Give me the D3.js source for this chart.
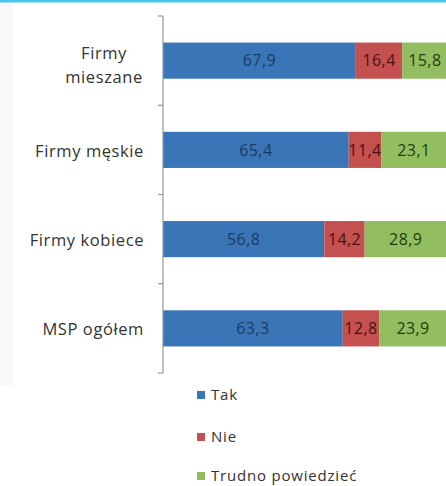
<!DOCTYPE html>
<html>
<head>
<meta charset="utf-8">
<script src="https://cdn.jsdelivr.net/npm/d3@7"></script>
<style>
  html, body { margin: 0; padding: 0; background: #ffffff; }
  svg { display: block; }
</style>
</head>
<body>
<svg id="chart" width="446" height="486"></svg>
<script>
// Categories listed top to bottom
const categories = ["Firmy mieszane", "Firmy męskie", "Firmy kobiece", "MSP ogółem"];
const categoryLines = [["Firmy", "mieszane"], ["Firmy męskie"], ["Firmy kobiece"], ["MSP ogółem"]];

// Series values (%)
const seriesNames = ["Tak", "Nie", "Trudno powiedzieć"];
const tak    = [67.9, 65.4, 56.8, 63.3];
const nie    = [16.4, 11.4, 14.2, 12.8];
const trudno = [15.8, 23.1, 28.9, 23.9];

const fills      = ["#3a76b7", "#c4504f", "#93be5f"];
const labelInks  = ["#1b3a5e", "#4a1212", "#223d12"];
const FONT = "'Open Sans', sans-serif";

const svg = d3.select("#chart");
const W = 446, H = 486;

svg.append("rect").attr("x", 0).attr("y", 0).attr("width", W).attr("height", H).attr("fill", "#ffffff");
svg.append("rect").attr("x", 0).attr("y", 0).attr("width", 13).attr("height", 386).attr("fill", "#f8f8f8");
// top rule
svg.append("rect").attr("x", 0).attr("y", 0).attr("width", W).attr("height", 2.5).attr("fill", "#4dc2ef");

const x = d3.scaleLinear().domain([0, 100]).range([163, 447]);
const y = d3.scaleBand().domain(categories).range([16, 373]).paddingInner(0.595).paddingOuter(0.2975);

const rows = categories.map((c, i) => {
  const vals = [tak[i], nie[i], trudno[i]];
  let acc = 0;
  return vals.map((v, k) => { const seg = { cat: c, k, v, x0: acc, x1: acc + v }; acc += v; return seg; });
});

const g = svg.append("g");
rows.forEach(segs => {
  g.selectAll(null).data(segs).enter().append("rect")
    .attr("x", d => x(d.x0))
    .attr("y", d => y(d.cat))
    .attr("width", d => x(d.x1) - x(d.x0))
    .attr("height", y.bandwidth())
    .attr("fill", d => fills[d.k]);
  g.selectAll(null).data(segs).enter().append("text")
    .attr("x", d => (x(d.x0) + x(d.x1)) / 2)
    .attr("y", d => y(d.cat) + y.bandwidth() / 2)
    .attr("dy", "0.36em")
    .attr("text-anchor", "middle")
    .attr("font-family", FONT)
    .attr("font-size", 16)
    .attr("letter-spacing", "0.4px")
    .attr("fill", d => labelInks[d.k])
    .text(d => d3.format(".1f")(d.v).replace(".", ","));
});

// Category axis with boundary ticks between bands
const axisX = 163;
const bounds = d3.range(categories.length + 1).map(i => 16 + i * (357 / categories.length));
svg.append("line").attr("x1", axisX).attr("x2", axisX).attr("y1", 16).attr("y2", 373)
  .attr("stroke", "#969696").attr("stroke-width", 1.2);
svg.selectAll(null).data(bounds).enter().append("line")
  .attr("x1", axisX - 5).attr("x2", axisX).attr("y1", d => d).attr("y2", d => d)
  .attr("stroke", "#969696").attr("stroke-width", 1.2);

// Category labels
categories.forEach((c, i) => {
  const lines = categoryLines[i];
  const cy = y(c) + y.bandwidth() / 2 + (lines.length > 1 ? 4 : 1);
  const lh = 24;
  const t = svg.append("text")
    .attr("font-family", FONT)
    .attr("font-size", 16.5)
    .attr("letter-spacing", "0.6px")
    .attr("fill", "#333333")
    .attr("text-anchor", lines.length > 1 ? "middle" : "end");
  lines.forEach((ln, j) => {
    t.append("tspan")
      .attr("x", lines.length > 1 ? 104 : 144)
      .attr("y", cy + (j - (lines.length - 1) / 2) * lh)
      .attr("dy", "0.36em")
      .text(ln);
  });
});

// Legend
const legend = svg.append("g");
const legY = [395, 437, 476];
seriesNames.forEach((s, i) => {
  legend.append("rect").attr("x", 197).attr("y", legY[i] - 4).attr("width", 8).attr("height", 8).attr("fill", fills[i]);
  legend.append("text").attr("x", 211).attr("y", legY[i]).attr("dy", "0.36em")
    .attr("font-family", FONT).attr("font-size", 15)
    .attr("letter-spacing", "0.8px")
    .attr("fill", "#333333").text(s);
});
</script>
</body>
</html>
